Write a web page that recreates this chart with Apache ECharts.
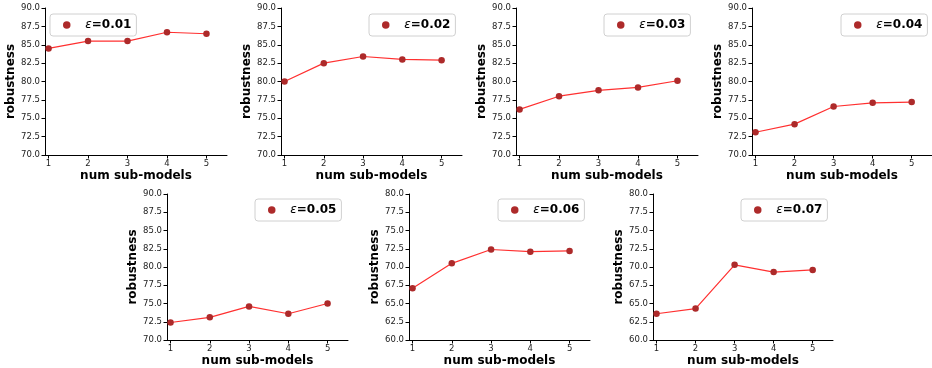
<!DOCTYPE html>
<html>
<head>
<meta charset="utf-8">
<script src="https://cdn.jsdelivr.net/npm/echarts@6/dist/echarts.min.js"></script>
<style>html,body{margin:0;padding:0;background:#fff}#c{width:932px;height:368px}</style>
</head>
<body>
<div id="c"></div>
<script>
// ---- data ----
const numSubModels = [1, 2, 3, 4, 5];
const epsilons = ['0.01', '0.02', '0.03', '0.04', '0.05', '0.06', '0.07'];
const rob001 = [84.5, 85.5, 85.5, 86.7, 86.5];
const rob002 = [80.0, 82.5, 83.4, 83.0, 82.9];
const rob003 = [76.2, 78.0, 78.8, 79.2, 80.1];
const rob004 = [73.1, 74.2, 76.6, 77.1, 77.2];
const rob005 = [72.4, 73.1, 74.6, 73.6, 75.0];
const rob006 = [67.1, 70.5, 72.4, 72.1, 72.2];
const rob007 = [63.6, 64.3, 70.3, 69.3, 69.6];
const yMins = [70, 70, 70, 70, 70, 60, 60];
const yMaxs = [90, 90, 90, 90, 90, 80, 80];
const xTicks = [1, 2, 3, 4, 5];
const xTitle = 'num sub-models';
const yTitle = 'robustness';

const allSeries = [rob001, rob002, rob003, rob004, rob005, rob006, rob007];

// ---- layout ----
const boxes = [
  {left: 45, top: 8, width: 182, height: 147},
  {left: 281, top: 8, width: 181, height: 147},
  {left: 516, top: 8, width: 182, height: 147},
  {left: 752, top: 8, width: 181, height: 147},
  {left: 167, top: 194, width: 181, height: 148},
  {left: 409, top: 194, width: 181, height: 148},
  {left: 653, top: 194, width: 180, height: 148}
];
const legendPos = [
  {left: 50, top: 14}, {left: 369, top: 14}, {left: 604, top: 14}, {left: 841, top: 14},
  {left: 255, top: 199}, {left: 498, top: 199}, {left: 741, top: 199}
];
const FONT = 'DejaVu Sans';
const grid = [], xAxis = [], yAxis = [], series = [], legend = [];
boxes.forEach((b, i) => {
  grid.push({left: b.left, top: b.top, width: b.width, height: b.height, containLabel: false});
  xAxis.push({
    type: 'value', gridIndex: i, min: 0.91, max: 5.52,
    name: xTitle, nameLocation: 'middle', nameGap: 15,
    nameTextStyle: {fontFamily: FONT, fontWeight: 'bold', fontSize: 12, color: '#000'},
    axisLine: {show: true, lineStyle: {color: '#000', width: 1}},
    axisTick: {show: true, length: 3.5, customValues: xTicks, lineStyle: {color: '#000'}},
    axisLabel: {customValues: xTicks, margin: 4, fontFamily: FONT, fontSize: 8.5, color: '#222'},
    splitLine: {show: false}
  });
  yAxis.push({
    type: 'value', gridIndex: i, min: yMins[i], max: yMaxs[i], interval: 2.5,
    name: yTitle, nameLocation: 'middle', nameGap: 25,
    nameTextStyle: {fontFamily: FONT, fontWeight: 'bold', fontSize: 12, color: '#000'},
    axisLine: {show: true, lineStyle: {color: '#000', width: 1}},
    axisTick: {show: true, length: 3.5, lineStyle: {color: '#000'}},
    axisLabel: {margin: 5, fontFamily: FONT, fontSize: 8.5, color: '#222', formatter: v => v.toFixed(1)},
    splitLine: {show: false}
  });
  const name = 'ε=' + epsilons[i];
  series.push({
    type: 'line', name: name, xAxisIndex: i, yAxisIndex: i,
    data: numSubModels.map((x, k) => [x, allSeries[i][k]]),
    symbol: 'circle', symbolSize: 6.5,
    lineStyle: {color: '#ff3030', width: 1.2},
    itemStyle: {color: '#ad2a2a'},
    emphasis: {disabled: true}, animation: false
  });
  const lg = legendPos[i];
  legend.push({
    data: [name], left: lg.left, top: lg.top,
    icon: 'circle', itemWidth: 27, itemHeight: 7.5,
    itemStyle: {color: '#ad2a2a'},
    padding: [5, 5, 5, 13],
    borderColor: '#d0d0d0', borderWidth: 1, borderRadius: 3, backgroundColor: '#fff',
    selectedMode: false,
    formatter: n => '{e|ε}{b|' + n.slice(1) + '}',
    textStyle: {
      rich: {
        e: {fontFamily: FONT, fontStyle: 'italic', fontSize: 12, color: '#000'},
        b: {fontFamily: FONT, fontWeight: 'bold', fontSize: 12, color: '#000'}
      }
    }
  });
});

const chart = echarts.init(document.getElementById('c'), null, {renderer: 'canvas'});
chart.setOption({animation: false, grid, xAxis, yAxis, series, legend});
</script>
</body>
</html>
